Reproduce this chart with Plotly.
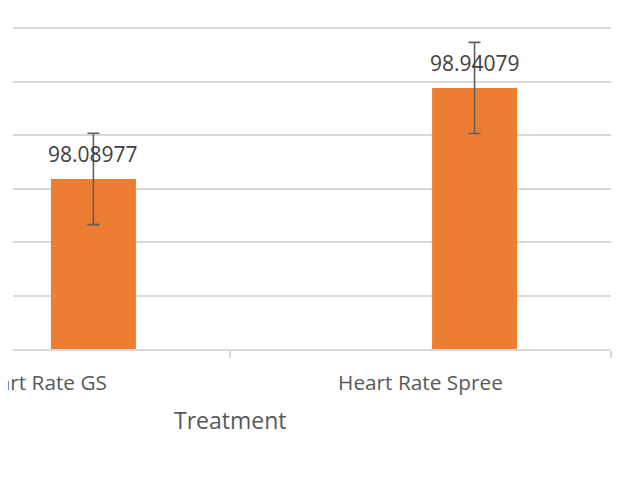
import plotly.graph_objects as go

categories = ["Heart Rate GS", "Heart Rate Spree"]
means = [98.08977, 98.94079]
errors = [0.427, 0.426]
value_labels = ["98.08977", "98.94079"]

ORANGE = "#ED7D31"
GRID = "#D9D9D9"
TEXT = "#595959"
FONT = "Open Sans"

idx = list(range(len(categories)))
offset = 0.142
bar_x = [i + offset for i in idx]

fig = go.Figure()
fig.add_trace(go.Bar(
    x=bar_x, y=means, width=0.223,
    marker=dict(color=ORANGE, line=dict(width=0)),
    error_y=dict(type="data", array=errors, visible=True,
                 color="#5F5F5F", thickness=1.6, width=6),
    hoverinfo="skip",
))

for xv, yv, lab in zip(bar_x, means, value_labels):
    fig.add_annotation(x=xv, y=yv, xref="x", yref="y", text=lab,
                       showarrow=False, yanchor="bottom", yshift=9,
                       font=dict(family=FONT, size=21, color="#404040"))

fig.add_annotation(x=0.5, xref="x", y=-0.165, yref="paper", text="Treatment",
                   showarrow=False, yanchor="top",
                   font=dict(family=FONT, size=23, color=TEXT))

fig.update_layout(
    width=638, height=488,
    margin=dict(l=5, r=35, t=17.8, b=146.5, autoexpand=False),
    paper_bgcolor="white", plot_bgcolor="white",
    showlegend=False,
    xaxis=dict(
        range=[-0.069, 1.5], tickmode="array", tickvals=idx, ticktext=categories,
        ticks="", showgrid=False, zeroline=False,
        showline=True, linecolor=GRID, linewidth=1.5,
        tickfont=dict(family=FONT, size=20.8, color=TEXT),
        ticklabeloverflow="allow", automargin=False, ticklabelstandoff=14,
        minor=dict(tickmode="array", tickvals=[0.5, 1.5], ticks="outside",
                   ticklen=7, tickwidth=1.5, tickcolor=GRID, showgrid=False),
    ),
    yaxis=dict(
        range=[96.5, 99.52], dtick=0.5, tick0=96.5, showticklabels=False,
        showgrid=True, gridcolor=GRID, gridwidth=1.5, zeroline=False,
        ticks="", automargin=False,
    ),
)

fig.write_html("out.html")
